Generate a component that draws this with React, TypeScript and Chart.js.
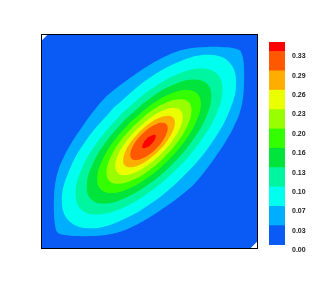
import { useEffect, useRef } from "react";
import { Chart, registerables } from "chart.js";

Chart.register(...registerables);

// contour levels (lower edge of each colour band) and colour-bar top
const levels = [0, 0.0326, 0.0652, 0.0978, 0.1304, 0.163, 0.1956, 0.2282, 0.2608, 0.2934, 0.326];
const colorbarMax = 0.342;
const bandColors = [
  "#0a5af5", "#00aeff", "#00ffee", "#00f5a0", "#00e43c", "#33ff00",
  "#99ff00", "#eaff00", "#ffae00", "#ff5800", "#ff0000",
];

// region where the field is defined (level 0)
const domainOutline = [[-2.8, 3], [3, 3], [3, -2.8], [2.8, -3], [-3, -3], [-3, 2.8], [-2.8, 3]];

// closed contour outlines, one per level (x, y)
const contour1 = [[2.54,2.54],[2.61,2.33],[2.64,2.0],[2.64,1.61],[2.61,1.21],[2.52,0.8],[2.36,0.42],[2.13,0.0],[1.83,-0.45],[1.52,-0.87],[1.22,-1.22],[0.87,-1.52],[0.45,-1.83],[0.0,-2.13],[-0.42,-2.36],[-0.8,-2.52],[-1.21,-2.61],[-1.61,-2.64],[-2.0,-2.64],[-2.33,-2.61],[-2.54,-2.54],[-2.61,-2.33],[-2.64,-2.0],[-2.64,-1.61],[-2.61,-1.21],[-2.52,-0.8],[-2.36,-0.42],[-2.13,0.0],[-1.83,0.45],[-1.52,0.87],[-1.22,1.22],[-0.87,1.52],[-0.45,1.83],[0.0,2.13],[0.42,2.36],[0.8,2.52],[1.21,2.61],[1.61,2.64],[2.0,2.64],[2.33,2.61],[2.54,2.54]];
const contour2 = [[-0.96,0.96],[-1.74,0.04],[-2.25,-0.89],[-2.42,-1.68],[-2.22,-2.22],[-1.68,-2.42],[-0.89,-2.25],[0.04,-1.74],[0.96,-0.96],[1.74,-0.04],[2.25,0.89],[2.42,1.68],[2.22,2.22],[1.68,2.42],[0.89,2.25],[-0.04,1.74],[-0.96,0.96]];
const contour3 = [[-0.77,0.77],[-1.43,-0.01],[-1.88,-0.79],[-2.04,-1.45],[-1.89,-1.89],[-1.45,-2.04],[-0.79,-1.88],[-0.01,-1.43],[0.77,-0.77],[1.43,0.01],[1.88,0.79],[2.04,1.45],[1.89,1.89],[1.45,2.04],[0.79,1.88],[0.01,1.43],[-0.77,0.77]];
const contour4 = [[-0.64,0.64],[-1.21,-0.03],[-1.59,-0.69],[-1.73,-1.24],[-1.61,-1.61],[-1.24,-1.73],[-0.69,-1.59],[-0.03,-1.21],[0.64,-0.64],[1.21,0.03],[1.59,0.69],[1.73,1.24],[1.61,1.61],[1.24,1.73],[0.69,1.59],[0.03,1.21],[-0.64,0.64]];
const contour5 = [[-0.53,0.53],[-1.00,-0.02],[-1.32,-0.57],[-1.44,-1.03],[-1.34,-1.34],[-1.03,-1.44],[-0.57,-1.32],[-0.02,-1.00],[0.53,-0.53],[1.00,0.02],[1.32,0.57],[1.44,1.03],[1.34,1.34],[1.03,1.44],[0.57,1.32],[0.02,1.00],[-0.53,0.53]];
const contour6 = [[-0.43,0.43],[-0.82,-0.02],[-1.08,-0.47],[-1.18,-0.85],[-1.10,-1.10],[-0.85,-1.18],[-0.47,-1.08],[-0.02,-0.82],[0.43,-0.43],[0.82,0.02],[1.08,0.47],[1.18,0.85],[1.10,1.10],[0.85,1.18],[0.47,1.08],[0.02,0.82],[-0.43,0.43]];
const contour7 = [[-0.34,0.34],[-0.65,-0.02],[-0.86,-0.375],[-0.94,-0.68],[-0.87,-0.87],[-0.68,-0.94],[-0.375,-0.86],[-0.02,-0.65],[0.34,-0.34],[0.65,0.02],[0.86,0.375],[0.94,0.68],[0.87,0.87],[0.68,0.94],[0.375,0.86],[0.02,0.65],[-0.34,0.34]];
const contour8 = [[-0.265,0.265],[-0.50,-0.01],[-0.66,-0.285],[-0.72,-0.52],[-0.67,-0.67],[-0.52,-0.72],[-0.285,-0.66],[-0.01,-0.50],[0.265,-0.265],[0.50,0.01],[0.66,0.285],[0.72,0.52],[0.67,0.67],[0.52,0.72],[0.285,0.66],[0.01,0.50],[-0.265,0.265]];
const contour9 = [[-0.20,0.20],[-0.37,0.00],[-0.48,-0.20],[-0.52,-0.37],[-0.48,-0.48],[-0.37,-0.52],[-0.20,-0.48],[0.00,-0.37],[0.20,-0.20],[0.37,0.00],[0.48,0.20],[0.52,0.37],[0.48,0.48],[0.37,0.52],[0.20,0.48],[0.00,0.37],[-0.20,0.20]];
const contour10 = [[-0.07,0.07],[-0.13,0.00],[-0.17,-0.08],[-0.19,-0.14],[-0.18,-0.18],[-0.14,-0.19],[-0.08,-0.17],[0.00,-0.13],[0.07,-0.07],[0.13,0.00],[0.17,0.08],[0.19,0.14],[0.18,0.18],[0.14,0.19],[0.08,0.17],[0.00,0.13],[-0.07,0.07]];

const outlines = [domainOutline, contour1, contour2, contour3, contour4, contour5, contour6, contour7, contour8, contour9, contour10];

const framePlugin = {
  id: "frame",
  afterDraw(chart: any) {
    const { ctx, chartArea: a } = chart;
    ctx.save();
    ctx.strokeStyle = "#000";
    ctx.lineWidth = 1;
    ctx.strokeRect(a.left + 0.5, a.top + 0.5, a.right - a.left, a.bottom - a.top - 1);
    ctx.restore();
  },
};

export default function App() {
  const mainRef = useRef<HTMLCanvasElement>(null);
  const barRef = useRef<HTMLCanvasElement>(null);

  useEffect(() => {
    const datasets = outlines
      .map((pts, i) => ({
        type: "scatter" as const,
        data: pts.map(([x, y]) => ({ x, y })),
        showLine: true,
        fill: "shape",
        backgroundColor: bandColors[i],
        borderWidth: 0,
        pointRadius: 0,
        tension: i === 0 ? 0 : 0.4,
      }))
      .reverse();

    const main = new Chart(mainRef.current!, {
      type: "scatter",
      data: { datasets: datasets as any },
      options: {
        animation: false,
        responsive: false,
        devicePixelRatio: 1,
        layout: { padding: 1 },
        plugins: { legend: { display: false }, tooltip: { enabled: false } },
        scales: {
          x: { type: "linear", min: -3, max: 3, display: false },
          y: { type: "linear", min: -3, max: 3, display: false },
        },
      },
      plugins: [framePlugin],
    });

    const bar = new Chart(barRef.current!, {
      type: "bar",
      data: {
        labels: [""],
        datasets: bandColors.map((c, i) => ({
          data: [(i < levels.length - 1 ? levels[i + 1] : colorbarMax) - levels[i]],
          backgroundColor: c,
          borderWidth: 0,
          barPercentage: 1,
          categoryPercentage: 1,
          stack: "cb",
        })),
      },
      options: {
        animation: false,
        responsive: false,
        devicePixelRatio: 1,
        layout: { padding: { left: 7, top: 12, right: 0, bottom: 15 } },
        plugins: { legend: { display: false }, tooltip: { enabled: false } },
        scales: {
          x: { display: false, stacked: true },
          y: {
            stacked: true,
            position: "right",
            min: 0,
            max: colorbarMax,
            grid: { display: false, drawTicks: false },
            border: { display: false },
            afterBuildTicks: (ax: any) => {
              ax.ticks = levels.map((v) => ({ value: v }));
            },
            afterFit: (ax: any) => {
              ax.width = 31;
            },
            ticks: {
              autoSkip: false,
              padding: 7,
              labelOffset: 5,
              color: "#1a1a1a",
              font: { family: "'Liberation Sans', Arial, sans-serif", size: 7, weight: "bold" },
              callback: (v: any) => Number(v).toFixed(2),
            },
          },
        },
      },
    });

    return () => {
      main.destroy();
      bar.destroy();
    };
  }, []);

  return (
    <div style={{ position: "absolute", left: 0, top: 0, width: 316, height: 281, background: "#fff" }}>
      <canvas ref={mainRef} width={218} height={217} style={{ position: "absolute", left: 40, top: 33 }} />
      <canvas ref={barRef} width={54} height={230} style={{ position: "absolute", left: 262, top: 30 }} />
    </div>
  );
}
